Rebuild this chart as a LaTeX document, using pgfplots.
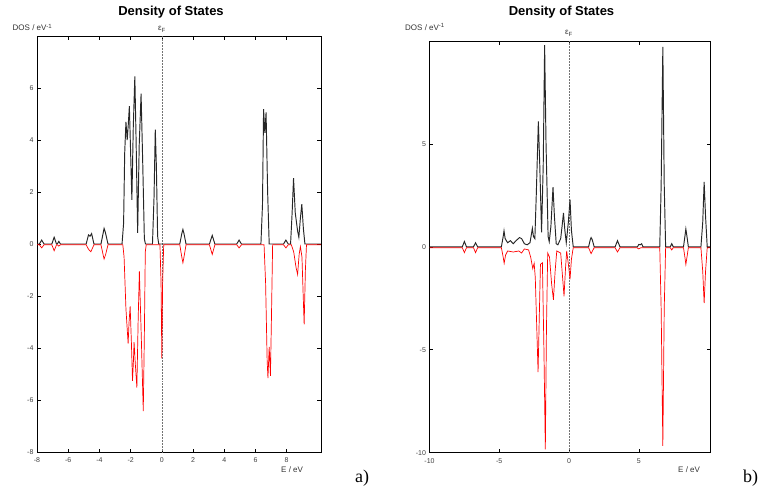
\documentclass[border=0pt]{standalone}
\usepackage{fontspec}
\setmainfont{Liberation Sans}
\newfontfamily\panelfont{Liberation Serif}
\usepackage{pgfplots}
\pgfplotsset{compat=1.18}

\pgfplotsset{
  dos/.style={
    scale only axis, anchor=south west,
    axis line style={line width=0.9pt},
    tick align=inside, major tick length=3.5pt,
    tick style={black, line width=0.6pt},
    tick label style={font=\fontsize{7}{8}\selectfont, text=black!75},
    xticklabel style={yshift=-2pt},
    /pgf/number format/assume math mode=true,
  },
  up/.style={black!85, line width=0.95pt},
  dn/.style={red, line width=0.7pt},
  ef/.style={black!55, densely dotted, line width=0.5pt},
}

\begin{document}
\begin{tikzpicture}
\useasboundingbox (0pt,0pt) rectangle (761pt,496pt);

% ---- panel a ----
\begin{axis}[dos, at={(37pt,44pt)}, width=284pt, height=416pt,
  xmin=-8, xmax=10.2, ymin=-8, ymax=8,
  xtick={-8,-6,...,8}, ytick={-8,-6,...,6}]
\addplot[ef] coordinates {(0,-8) (0,8)};
\addplot[up] coordinates {
(-8,0)(-7.85,0)(-7.7,0.15)(-7.55,0)(-7.05,0)(-6.9,0.26)(-6.75,0)(-6.7,0)(-6.6,0.1)(-6.5,0)
(-4.85,0)(-4.7,0.35)(-4.6,0.3)(-4.5,0.4)(-4.35,0)
(-3.9,0)(-3.75,0.45)(-3.7,0.6)(-3.62,0.45)(-3.45,0)
(-2.55,0)(-2.45,0.8)(-2.38,3.5)(-2.3,4.7)(-2.22,4.0)(-2.15,4.6)(-2.08,5.3)(-2.0,3.5)(-1.92,1.7)
(-1.83,4.5)(-1.73,6.45)(-1.65,4.0)(-1.55,0.43)(-1.45,3.8)(-1.33,5.78)(-1.22,3.0)(-1.12,0.2)(-1.05,0)
(-0.6,0)(-0.5,1.8)(-0.42,4.4)(-0.35,3.0)(-0.27,0.3)(-0.2,0)
(1.15,0)(1.28,0.4)(1.35,0.56)(1.42,0.4)(1.55,0)
(3.05,0)(3.23,0.33)(3.4,0)(4.8,0)(4.95,0.15)(5.1,0)
(6.35,0)(6.45,1.5)(6.52,5.19)(6.6,4.28)(6.68,5.06)(6.78,2.0)(6.88,0)
(7.8,0)(7.95,0.15)(8.1,0)
(8.25,0)(8.35,1.2)(8.44,2.53)(8.55,1.2)(8.7,0.5)(8.78,0.26)(8.88,1.0)(8.97,1.53)(9.07,0.6)(9.17,0)
(10.2,0)};
\addplot[dn] coordinates {
(-8,-0.03)(-7.85,-0.03)(-7.7,-0.15)(-7.55,-0.03)(-7.05,-0.03)(-6.9,-0.26)(-6.75,-0.03)(-6.7,-0.03)(-6.6,-0.08)(-6.5,-0.03)
(-4.85,-0.03)(-4.7,-0.2)(-4.55,-0.3)(-4.35,-0.03)
(-3.9,-0.03)(-3.75,-0.45)(-3.7,-0.58)(-3.6,-0.4)(-3.45,-0.03)
(-2.5,-0.03)(-2.42,-0.5)(-2.3,-2.5)(-2.16,-3.83)(-2.1,-3.0)(-2.03,-2.4)(-1.95,-3.8)(-1.88,-5.26)(-1.82,-4.5)
(-1.78,-3.77)(-1.7,-4.6)(-1.6,-5.52)(-1.52,-3.0)(-1.44,-1.04)(-1.32,-3.5)(-1.19,-6.43)(-1.12,-3.5)(-1.06,-0.3)(-1.0,-0.03)
(-0.12,-0.03)(-0.05,-1.5)(0.0,-4.4)(0.05,-1.5)(0.12,-0.03)
(1.15,-0.03)(1.28,-0.5)(1.35,-0.72)(1.42,-0.5)(1.55,-0.03)
(3.05,-0.03)(3.23,-0.4)(3.4,-0.03)(4.8,-0.03)(4.95,-0.15)(5.1,-0.03)
(6.55,-0.03)(6.65,-1.5)(6.75,-4.5)(6.8,-5.16)(6.88,-3.96)(6.96,-5.07)(7.02,-3.0)(7.1,-0.03)
(7.8,-0.03)(7.95,-0.15)(8.1,-0.03)
(8.3,-0.03)(8.45,-0.3)(8.6,-0.9)(8.7,-1.17)(8.8,-0.4)(8.88,-0.1)(8.98,-0.5)(9.06,-2.0)(9.12,-3.09)(9.2,-1.0)(9.27,-0.03)
(10.2,-0.03)};
\end{axis}

% ---- panel b ----
\begin{axis}[dos, at={(429.5pt,43.3pt)}, width=280.5pt, height=411.7pt,
  xmin=-10, xmax=10.1, ymin=-10, ymax=10,
  xtick={-10,-5,0,5}, ytick={-10,-5,0,5}]
\addplot[ef] coordinates {(0,-10) (0,10)};
\addplot[up] coordinates {
(-10,0)(-7.65,0)(-7.5,0.26)(-7.35,0)(-6.85,0)(-6.7,0.2)(-6.55,0)
(-4.85,0)(-4.72,0.5)(-4.66,0.78)(-4.58,0.4)(-4.4,0.2)(-4.2,0.3)(-4.0,0.15)(-3.8,0.3)(-3.55,0.45)(-3.4,0.4)
(-3.2,0.15)(-3.0,0.1)(-2.8,0.2)(-2.7,0.6)(-2.63,0.9)(-2.55,0.5)(-2.45,0.4)(-2.35,2.5)(-2.2,6.1)(-2.1,4.0)
(-1.97,0.7)(-1.85,4.0)(-1.75,9.8)(-1.65,5.0)(-1.5,0.5)(-1.42,0.25)(-1.3,1.0)(-1.15,2.9)(-1.05,1.5)(-0.92,0.15)
(-0.8,0.1)(-0.6,0.4)(-0.5,1.0)(-0.4,1.65)(-0.3,0.8)(-0.2,0.2)(-0.05,1.2)(0.07,2.29)(0.17,0.8)(0.3,0)
(1.4,0)(1.52,0.35)(1.58,0.45)(1.66,0.35)(1.8,0)
(3.3,0)(3.47,0.3)(3.65,0)
(4.9,0)(5.0,0.12)(5.1,0.1)(5.2,0.15)(5.3,0)
(6.5,0)(6.6,3.0)(6.72,9.72)(6.82,3.0)(6.92,0)
(7.25,0)(7.36,0.15)(7.47,0)
(8.2,0)(8.3,0.5)(8.37,0.87)(8.45,0.5)(8.55,0)
(9.45,0)(9.58,1.2)(9.68,3.15)(9.78,1.5)(9.9,0)(10.1,0)};
\addplot[dn] coordinates {
(-10,-0.04)(-7.65,-0.04)(-7.5,-0.28)(-7.35,-0.04)(-6.85,-0.04)(-6.7,-0.28)(-6.55,-0.04)
(-4.85,-0.04)(-4.72,-0.5)(-4.65,-0.8)(-4.55,-0.4)(-4.4,-0.2)(-4.0,-0.25)(-3.6,-0.2)(-3.4,-0.3)(-3.2,-0.1)
(-2.9,-0.15)(-2.75,-0.5)(-2.6,-1.06)(-2.5,-0.8)(-2.42,-1.5)(-2.22,-6.08)(-2.12,-3.0)(-2.05,-0.85)(-1.91,-0.77)
(-1.8,-5.0)(-1.7,-9.84)(-1.62,-4.0)(-1.53,-0.3)(-1.4,-0.5)(-1.25,-1.8)(-1.12,-2.57)(-1.0,-1.2)(-0.88,-0.2)
(-0.6,-0.3)(-0.45,-1.6)(-0.36,-2.4)(-0.25,-1.0)(-0.17,-0.2)(-0.02,-1.0)(0.07,-1.58)(0.17,-0.6)(0.3,-0.04)
(1.4,-0.04)(1.58,-0.33)(1.8,-0.04)(3.3,-0.04)(3.47,-0.25)(3.65,-0.04)(4.85,-0.04)(5.0,-0.1)(5.15,-0.04)
(6.5,-0.04)(6.6,-3.0)(6.72,-9.67)(6.82,-3.0)(6.92,-0.04)
(7.25,-0.04)(7.36,-0.15)(7.47,-0.04)
(8.2,-0.04)(8.3,-0.5)(8.37,-0.85)(8.45,-0.5)(8.55,-0.04)
(9.45,-0.04)(9.58,-1.2)(9.68,-2.73)(9.78,-1.2)(9.9,-0.04)(10.1,-0.04)};
\end{axis}

% ---- texts ----
\node[font=\bfseries\fontsize{13}{14}\selectfont] at (171pt,484pt) {Density of States};
\node[font=\bfseries\fontsize{13}{14}\selectfont] at (561.5pt,484pt) {Density of States};
\node[anchor=west, inner sep=0, font=\fontsize{8}{9}\selectfont, text=black!80] at (12.5pt,468.5pt) {DOS / eV\textsuperscript{-1}};
\node[anchor=west, inner sep=0, font=\fontsize{8}{9}\selectfont, text=black!80] at (405pt,469pt) {DOS / eV\textsuperscript{-1}};
\node[font=\fontsize{8}{9}\selectfont, text=black!80] at (162pt,466.5pt) {ε\textsubscript{F}};
\node[font=\fontsize{8}{9}\selectfont, text=black!80] at (569pt,462.5pt) {ε\textsubscript{F}};
\node[anchor=west, inner sep=0, font=\fontsize{8}{9}\selectfont, text=black!80] at (281pt,26pt) {E / eV};
\node[anchor=west, inner sep=0, font=\fontsize{8}{9}\selectfont, text=black!80] at (678pt,26pt) {E / eV};
\node[anchor=west, inner sep=0, font=\panelfont\fontsize{18}{20}\selectfont] at (355pt,18pt) {a)};
\node[anchor=west, inner sep=0, font=\panelfont\fontsize{18}{20}\selectfont] at (743pt,18pt) {b)};
\end{tikzpicture}
\end{document}
